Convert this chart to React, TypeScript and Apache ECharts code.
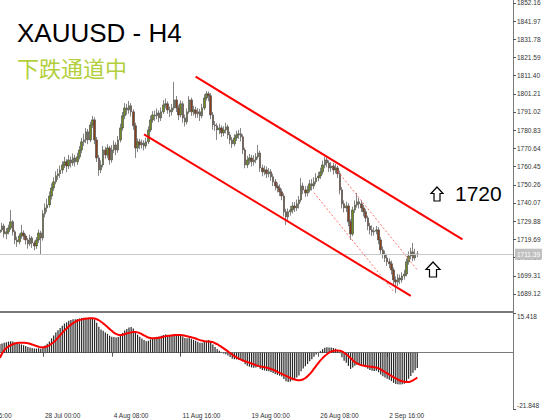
import React, { useEffect, useRef } from "react";
import * as echarts from "echarts";

// ---- data (XAUUSD H4) ----
const LEAD = 12; // hidden bars before the first visible bar
const TOTAL = 251; // categories incl. right-hand empty space

const firstOpen = 1723.5;
const closes = [
  1725.0, 1727.2, 1722.8, 1723.9, 1726.1, 1729.5, 1723.9, 1719.4, 1718.3, 1721.6,
  1723.3, 1721.6, 1719.4, 1717.2, 1720.5, 1717.7, 1716.0, 1719.4, 1723.3, 1720.5,
  1734.0, 1737.3, 1739.0, 1744.0, 1748.5, 1751.9, 1755.3, 1756.4, 1758.6, 1761.4,
  1763.1, 1760.8, 1764.2, 1762.5, 1765.3, 1763.1, 1765.9, 1769.8, 1774.3, 1775.4,
  1779.9, 1775.4, 1783.8, 1786.6, 1775.4, 1765.3, 1758.6, 1761.4, 1769.8, 1767.0,
  1770.9, 1764.2, 1769.8, 1772.6, 1769.8, 1775.4, 1782.1, 1788.9, 1793.3, 1792.2,
  1794.5, 1791.1, 1783.3, 1770.9, 1774.3, 1772.6, 1773.7, 1772.0, 1774.3, 1781.0,
  1786.6, 1789.4, 1788.9, 1790.5, 1787.7, 1791.1, 1795.0, 1795.6, 1792.2, 1791.1,
  1793.3, 1797.8, 1793.3, 1789.4, 1795.6, 1787.7, 1785.5, 1791.1, 1797.8, 1791.1,
  1792.2, 1790.0, 1791.1, 1788.9, 1793.3, 1798.9, 1801.2, 1800.1, 1789.4, 1783.8,
  1783.3, 1781.0, 1782.1, 1779.3, 1781.0, 1782.7, 1778.2, 1775.4, 1773.2, 1776.5,
  1778.2, 1778.8, 1777.1, 1769.8, 1761.4, 1764.2, 1765.3, 1763.1, 1764.2, 1765.9,
  1768.1, 1759.7, 1757.5, 1758.6, 1756.4, 1757.5, 1754.7, 1751.9, 1749.6, 1748.5,
  1746.3, 1744.0, 1735.1, 1732.3, 1735.1, 1736.2, 1738.4, 1737.3, 1739.6, 1741.8,
  1749.6, 1747.4, 1745.7, 1747.4, 1750.8, 1749.6, 1751.9, 1754.1, 1755.2, 1757.5,
  1761.4, 1764.2, 1762.5, 1759.7, 1760.8, 1758.6, 1759.7, 1756.4, 1747.4, 1739.6,
  1737.3, 1738.4, 1729.5, 1722.7, 1736.2, 1739.0, 1740.7, 1739.6, 1737.3, 1735.1,
  1731.7, 1727.2, 1725.0, 1723.9, 1724.3, 1725.0, 1719.4, 1713.8, 1711.5, 1709.3,
  1707.1, 1706.0, 1702.6, 1697.0, 1695.8, 1698.1, 1697.0, 1699.2, 1700.3, 1707.1,
  1710.4, 1712.7, 1709.3, 1711.5, 1711.39,
];
const highs = [
  1727.0, 1729.0, 1728.5, 1726.0, 1727.9, 1736.2, 1730.5, 1725.0, 1721.2, 1723.0,
  1727.8, 1724.8, 1722.9, 1720.6, 1722.3, 1721.5, 1719.0, 1721.0, 1725.2, 1724.5,
  1736.0, 1739.8, 1742.5, 1746.5, 1751.0, 1754.5, 1757.8, 1759.2, 1761.0, 1763.5,
  1766.0, 1764.6, 1767.0, 1766.1, 1767.8, 1767.0, 1768.2, 1772.0, 1776.5, 1778.9,
  1782.0, 1781.5, 1785.5, 1788.9, 1788.0, 1777.0, 1767.0, 1764.0, 1772.0, 1771.5,
  1773.0, 1772.0, 1772.5, 1775.0, 1774.0, 1777.6, 1784.5, 1791.0, 1796.0, 1795.6,
  1797.2, 1796.0, 1792.5, 1785.0, 1776.2, 1776.0, 1775.6, 1775.2, 1776.6, 1783.0,
  1789.0, 1791.5, 1791.8, 1793.0, 1792.0, 1793.5, 1797.6, 1798.6, 1797.0, 1794.0,
  1795.5, 1807.9, 1800.0, 1795.0, 1797.5, 1797.0, 1789.6, 1793.0, 1799.9, 1799.0,
  1794.5, 1794.0, 1793.2, 1792.8, 1795.6, 1801.0, 1802.8, 1802.5, 1801.5, 1791.0,
  1786.0, 1784.8, 1784.5, 1783.5, 1783.0, 1785.0, 1784.0, 1780.0, 1777.0, 1778.6,
  1780.5, 1781.0, 1782.1, 1778.5, 1771.0, 1766.5, 1767.5, 1767.0, 1766.8, 1768.0,
  1772.6, 1769.5, 1761.5, 1761.0, 1760.5, 1759.6, 1759.0, 1756.5, 1753.5, 1751.5,
  1750.5, 1748.0, 1745.5, 1736.8, 1737.0, 1738.5, 1740.5, 1740.6, 1742.0, 1744.0,
  1754.1, 1751.5, 1749.5, 1749.8, 1753.0, 1753.5, 1754.5, 1756.8, 1757.5, 1759.8,
  1763.8, 1765.9, 1765.5, 1764.0, 1763.0, 1762.5, 1762.0, 1761.0, 1758.0, 1749.0,
  1741.5, 1740.8, 1740.0, 1731.0, 1738.0, 1741.5, 1745.7, 1742.8, 1741.5, 1739.0,
  1736.8, 1733.0, 1729.0, 1727.5, 1726.5, 1727.2, 1726.5, 1721.0, 1715.8, 1713.5,
  1711.2, 1709.0, 1707.8, 1704.0, 1699.0, 1700.3, 1700.0, 1701.2, 1702.6, 1709.0,
  1713.0, 1715.0, 1717.7, 1714.5, 1713.2,
];
const lows = [
  1721.5, 1723.8, 1720.6, 1719.8, 1722.5, 1725.0, 1721.8, 1717.0, 1715.5, 1716.9,
  1720.0, 1719.5, 1716.8, 1714.5, 1715.9, 1714.9, 1713.6, 1714.3, 1717.8, 1711.5,
  1719.0, 1732.0, 1735.0, 1737.5, 1742.0, 1746.8, 1750.5, 1753.0, 1754.2, 1756.5,
  1759.6, 1757.3, 1759.0, 1760.0, 1760.9, 1760.5, 1761.4, 1764.5, 1768.0, 1772.0,
  1773.6, 1773.0, 1774.2, 1782.0, 1773.0, 1763.0, 1755.3, 1756.8, 1760.0, 1764.8,
  1765.2, 1761.5, 1762.6, 1768.0, 1766.8, 1768.2, 1774.0, 1780.5, 1787.0, 1789.5,
  1790.0, 1788.5, 1781.0, 1765.3, 1768.5, 1770.2, 1770.6, 1769.5, 1770.5, 1773.0,
  1779.8, 1785.0, 1786.0, 1786.9, 1785.2, 1786.0, 1789.9, 1793.0, 1790.0, 1788.2,
  1789.0, 1792.0, 1791.0, 1786.5, 1788.0, 1785.0, 1782.9, 1784.0, 1790.0, 1788.8,
  1789.0, 1787.6, 1787.8, 1786.0, 1787.5, 1792.0, 1797.5, 1797.0, 1787.0, 1781.0,
  1780.5, 1775.4, 1778.6, 1777.0, 1777.5, 1779.0, 1776.0, 1773.0, 1770.9, 1771.8,
  1774.8, 1776.0, 1774.5, 1767.5, 1759.5, 1759.6, 1762.0, 1760.5, 1761.0, 1762.3,
  1764.5, 1757.5, 1755.0, 1755.6, 1754.0, 1754.5, 1752.5, 1749.5, 1747.2, 1746.0,
  1744.0, 1741.6, 1732.5, 1727.8, 1730.5, 1733.0, 1734.2, 1735.0, 1735.6, 1737.0,
  1740.5, 1745.0, 1743.5, 1743.8, 1746.0, 1747.0, 1747.8, 1750.5, 1752.2, 1753.5,
  1756.0, 1759.5, 1760.0, 1757.5, 1757.6, 1756.0, 1756.6, 1754.0, 1745.0, 1737.0,
  1734.8, 1735.0, 1727.0, 1719.4, 1721.5, 1734.5, 1737.5, 1737.0, 1735.0, 1732.6,
  1729.5, 1724.8, 1722.5, 1721.6, 1721.8, 1722.5, 1717.0, 1711.6, 1709.0, 1707.0,
  1704.8, 1703.5, 1700.0, 1694.0, 1689.7, 1693.5, 1694.6, 1695.4, 1697.2, 1699.0,
  1705.5, 1708.5, 1707.5, 1707.8, 1709.8,
];
const macdHist = [
  3.4, 3.6, 3.9, 4.1, 4.3, 4.5, 4.4, 4.0, 3.6, 3.4,
  3.2, 2.9, 2.6, 2.2, 2.0, 1.8, 1.6, 1.6, 1.7, 1.5,
  2.0, 2.8, 3.5, 4.4, 5.6, 6.7, 7.8, 8.7, 9.6, 10.5,
  11.3, 11.8, 12.4, 12.7, 13.0, 13.0, 13.1, 13.3, 13.5, 13.6,
  13.6, 13.4, 13.5, 13.6, 12.9, 11.6, 10.1, 9.0, 8.5, 7.8,
  7.3, 6.6, 6.2, 6.1, 5.9, 6.1, 6.8, 7.7, 8.6, 9.2,
  9.8, 10.0, 9.4, 7.9, 7.0, 6.2, 5.5, 4.9, 4.5, 4.6,
  5.2, 5.7, 6.0, 6.2, 6.3, 6.6, 6.9, 7.1, 7.0, 6.9,
  7.0, 7.3, 7.1, 6.7, 6.9, 6.3, 5.7, 5.6, 5.9, 5.4,
  5.0, 4.6, 4.3, 3.9, 3.9, 4.3, 4.7, 4.9, 4.2, 3.2,
  2.2, 1.4, 0.8, 0.1, -0.3, -0.6, -1.1, -1.7, -2.3, -2.5,
  -2.6, -2.7, -2.8, -3.4, -4.5, -5.1, -5.4, -5.7, -5.8, -5.7,
  -5.5, -6.2, -6.7, -6.9, -7.1, -7.2, -7.5, -7.9, -8.3, -8.6,
  -8.9, -9.2, -10.2, -11.1, -11.4, -11.2, -10.7, -10.2, -9.6, -8.8,
  -7.2, -6.1, -5.3, -4.4, -3.3, -2.5, -1.6, -0.7, 0.0, 0.6,
  1.3, 1.9, 2.1, 2.0, 2.0, 1.8, 1.6, 1.1, -0.2, -1.8,
  -3.1, -3.9, -5.1, -6.3, -5.7, -5.1, -4.7, -4.6, -4.8, -5.1,
  -5.6, -6.2, -6.7, -7.0, -7.1, -7.0, -7.6, -8.5, -9.1, -9.6,
  -10.1, -10.5, -11.0, -11.7, -12.1, -12.2, -12.3, -12.2, -12.0, -11.0,
  -10.1, -9.0, -7.8, -6.8, -5.9,
];
const macdSignal = [
  -2.0, -0.3, 0.9, 1.8, 2.4, 2.9, 3.3, 3.6, 3.8, 3.9,
  3.9, 3.9, 3.8, 3.7, 3.5, 3.2, 2.9, 2.6, 2.3, 2.1,
  2.1, 2.2, 2.5, 2.9, 3.5, 4.1, 4.9, 5.8, 6.8, 7.7,
  8.6, 9.4, 10.2, 10.9, 11.5, 12.0, 12.4, 12.7, 12.9, 13.1,
  13.2, 13.3, 13.4, 13.4, 13.3, 13.0, 12.6, 12.0, 11.4, 10.7,
  10.0, 9.2, 8.5, 7.8, 7.3, 7.0, 6.9, 7.0, 7.2, 7.5,
  7.7, 7.9, 8.0, 8.0, 7.9, 7.6, 7.2, 6.7, 6.3, 5.9,
  5.7, 5.6, 5.6, 5.7, 5.8, 6.0, 6.2, 6.4, 6.5, 6.6,
  6.7, 6.8, 6.9, 6.9, 6.9, 6.8, 6.6, 6.4, 6.2, 6.0,
  5.8, 5.5, 5.2, 4.9, 4.7, 4.5, 4.4, 4.4, 4.3, 4.1,
  3.7, 3.3, 2.8, 2.3, 1.7, 1.1, 0.5, -0.1, -0.7, -1.3,
  -1.8, -2.3, -2.7, -3.0, -3.3, -3.6, -3.9, -4.2, -4.5, -4.8,
  -5.1, -5.3, -5.5, -5.6, -5.8, -6.0, -6.3, -6.6, -7.0, -7.4,
  -7.8, -8.2, -8.6, -9.0, -9.4, -9.8, -10.1, -10.4, -10.6, -10.7,
  -10.6, -10.3, -9.8, -9.1, -8.3, -7.3, -6.2, -5.1, -4.0, -3.0,
  -2.1, -1.3, -0.6, 0.0, 0.4, 0.7, 0.9, 0.9, 0.8, 0.5,
  0.0, -0.6, -1.3, -2.1, -2.9, -3.6, -4.1, -4.5, -4.8, -5.0,
  -5.2, -5.3, -5.4, -5.5, -5.6, -5.8, -6.1, -6.5, -7.0, -7.5,
  -8.0, -8.5, -9.0, -9.5, -10.0, -10.4, -10.8, -11.1, -11.3, -11.4,
  -11.4, -11.1, -10.7, -10.2, -9.6,
];

const priceTicks = [
  1689.12, 1699.31, 1709.5, 1719.69, 1729.88, 1740.07, 1750.26, 1760.45, 1770.64,
  1780.83, 1791.02, 1801.21, 1811.4, 1821.59, 1831.78, 1841.97, 1852.16,
];
const macdTicks = [-21.848, 15.418];
const timeLabels = ["20 Jul 16:00", "28 Jul 00:00", "4 Aug 08:00", "11 Aug 16:00", "19 Aug 00:00", "26 Aug 08:00", "2 Sep 16:00"];
const timeLabelBars = [-12, 20, 52, 84, 116, 148, 180];
const lastPrice = 1711.39;

// trend lines: [barIndex, price]
const upperChannel = [[91, 1810.8], [215, 1719.7]];
const lowerChannel = [[67, 1778.5], [191, 1688.1]];
const dottedLow = [[146, 1745.8], [183, 1690.6]];
const dottedHigh = [[157, 1757.8], [194, 1702.6]];

const LABEL_FONT = "Liberation Sans";

function buildOption() {
  const categories = Array.from({ length: TOTAL }, (_, k) => String(k - LEAD));
  const labelMap: Record<number, string> = {};
  timeLabelBars.forEach((b, j) => (labelMap[b + LEAD] = timeLabels[j]));
  const lead = Array(LEAD).fill("-");
  const candles = lead.concat(
    closes.map((c, i) => [i === 0 ? firstOpen : closes[i - 1], c, lows[i], highs[i]])
  );
  const hist = lead.concat(macdHist);
  const sig = lead.concat(macdSignal);
  const cat = (b: number) => b + LEAD;
  const seg = (pts: number[][], style: any) => [
    { coord: [cat(pts[0][0]), pts[0][1]], lineStyle: style },
    { coord: [cat(pts[1][0]), pts[1][1]] },
  ];
  const redSolid = { color: "#ff0000", width: 2, type: "solid" };
  const redDot = { color: "#ff7070", width: 1, type: [2, 2] };

  return {
    animation: false,
    backgroundColor: "#ffffff",
    grid: [
      { left: -27, right: 41, top: 0, height: 312, outerBoundsMode: "none", containLabel: false },
      { left: -27, right: 41, top: 313, height: 96, outerBoundsMode: "none", containLabel: false },
    ],
    xAxis: [
      {
        type: "category",
        gridIndex: 0,
        data: categories,
        axisLine: { show: true, lineStyle: { color: "#7a7a7a", width: 2 } },
        axisTick: { show: false },
        axisLabel: { show: false },
        splitLine: { show: false },
      },
      {
        type: "category",
        gridIndex: 1,
        data: categories,
        axisLine: { show: true, lineStyle: { color: "#7a7a7a", width: 1 } },
        axisTick: {
          show: true,
          alignWithLabel: true,
          length: 4,
          interval: (idx: number) => labelMap[idx] !== undefined,
          lineStyle: { color: "#555" },
        },
        axisLabel: {
          show: true,
          interval: (idx: number) => labelMap[idx] !== undefined,
          formatter: (_v: string, idx: number) => labelMap[idx] ?? "",
          align: "left",
          padding: [0, 0, 0, 2],
          margin: 3,
          fontSize: 6.5,
          fontFamily: LABEL_FONT,
          color: "#333",
        },
        splitLine: { show: false },
      },
    ],
    yAxis: [
      {
        type: "value",
        gridIndex: 0,
        position: "right",
        min: 1679.03,
        max: 1853.73,
        axisLine: { show: true, lineStyle: { color: "#7a7a7a" } },
        axisTick: { show: true, length: 3, customValues: priceTicks, lineStyle: { color: "#555" } },
        axisLabel: {
          show: true,
          customValues: priceTicks,
          formatter: (v: number) => v.toFixed(2),
          margin: 4,
          fontSize: 6.5,
          fontFamily: LABEL_FONT,
          color: "#333",
        },
        splitLine: { show: false },
      },
      {
        type: "value",
        gridIndex: 1,
        position: "right",
        min: -21.848,
        max: 15.418,
        axisLine: { show: true, lineStyle: { color: "#7a7a7a" } },
        axisTick: { show: true, length: 3, customValues: macdTicks, lineStyle: { color: "#555" } },
        axisLabel: {
          show: true,
          customValues: macdTicks,
          formatter: (v: number) => v.toFixed(3),
          verticalAlignMaxLabel: "top",
          verticalAlignMinLabel: "bottom",
          margin: 4,
          fontSize: 6.5,
          fontFamily: LABEL_FONT,
          color: "#333",
        },
        splitLine: { show: false },
      },
    ],
    series: [
      {
        type: "candlestick",
        xAxisIndex: 0,
        yAxisIndex: 0,
        data: candles,
        barWidth: 2,
        itemStyle: {
          color: "#6e8b1e",
          color0: "#8b3e1c",
          borderColor: "#505050",
          borderColor0: "#505050",
          borderWidth: 0.7,
        },
        markLine: {
          silent: true,
          symbol: ["none", "none"],
          animation: false,
          label: { show: false },
          data: [
            {
              yAxis: lastPrice,
              lineStyle: { color: "#c8c8c8", width: 1, type: "solid" },
              label: {
                show: true,
                position: "end",
                formatter: lastPrice.toFixed(2),
                backgroundColor: "#c0c0c0",
                color: "#ffffff",
                fontSize: 6.5,
                fontFamily: LABEL_FONT,
                padding: [2, 2],
                distance: 2,
              },
            },
            seg(upperChannel, redSolid),
            seg(lowerChannel, redSolid),
            seg(dottedLow, redDot),
            seg(dottedHigh, redDot),
          ],
        },
        z: 3,
      },
      {
        type: "bar",
        xAxisIndex: 1,
        yAxisIndex: 1,
        data: hist,
        barWidth: 1.2,
        itemStyle: { color: "#262626" },
      },
      {
        type: "line",
        xAxisIndex: 1,
        yAxisIndex: 1,
        data: sig,
        showSymbol: false,
        smooth: 0.3,
        lineStyle: { color: "#ff0000", width: 2 },
        z: 4,
      },
    ],
    graphic: [
      {
        type: "text",
        x: 17,
        y: 33,
        style: { text: "XAUUSD - H4", fontSize: 26, fontFamily: LABEL_FONT, fill: "#000", align: "left", verticalAlign: "middle" },
      },
      {
        type: "text",
        x: 17,
        y: 67,
        style: { text: "下跌通道中", fontSize: 22, fontFamily: "Noto Sans CJK SC", fill: "#b2cf3c", align: "left", verticalAlign: "middle" },
      },
      {
        type: "text",
        x: 455,
        y: 193,
        style: { text: "1720", fontSize: 21, fontFamily: LABEL_FONT, fill: "#000", align: "left", verticalAlign: "middle" },
      },
      {
        type: "polygon",
        shape: { points: [[437, 187], [443, 193.5], [440, 193.5], [440, 201], [434, 201], [434, 193.5], [431, 193.5]] },
        style: { fill: "#ffffff", stroke: "#000", lineWidth: 1.2 },
      },
      {
        type: "polygon",
        shape: { points: [[433, 262], [440, 269.5], [436.5, 269.5], [436.5, 277], [429.5, 277], [429.5, 269.5], [426, 269.5]] },
        style: { fill: "#ffffff", stroke: "#000", lineWidth: 1.2 },
      },
    ],
  };
}

export default function App() {
  const ref = useRef<HTMLDivElement>(null);
  useEffect(() => {
    if (!ref.current) return;
    const chart = echarts.init(ref.current, null, { renderer: "svg" });
    chart.setOption(buildOption() as any);
    return () => chart.dispose();
  }, []);
  return (
    <div
      ref={ref}
      style={{ position: "fixed", left: 0, top: 0, width: 554, height: 420, background: "#fff" }}
    />
  );
}
